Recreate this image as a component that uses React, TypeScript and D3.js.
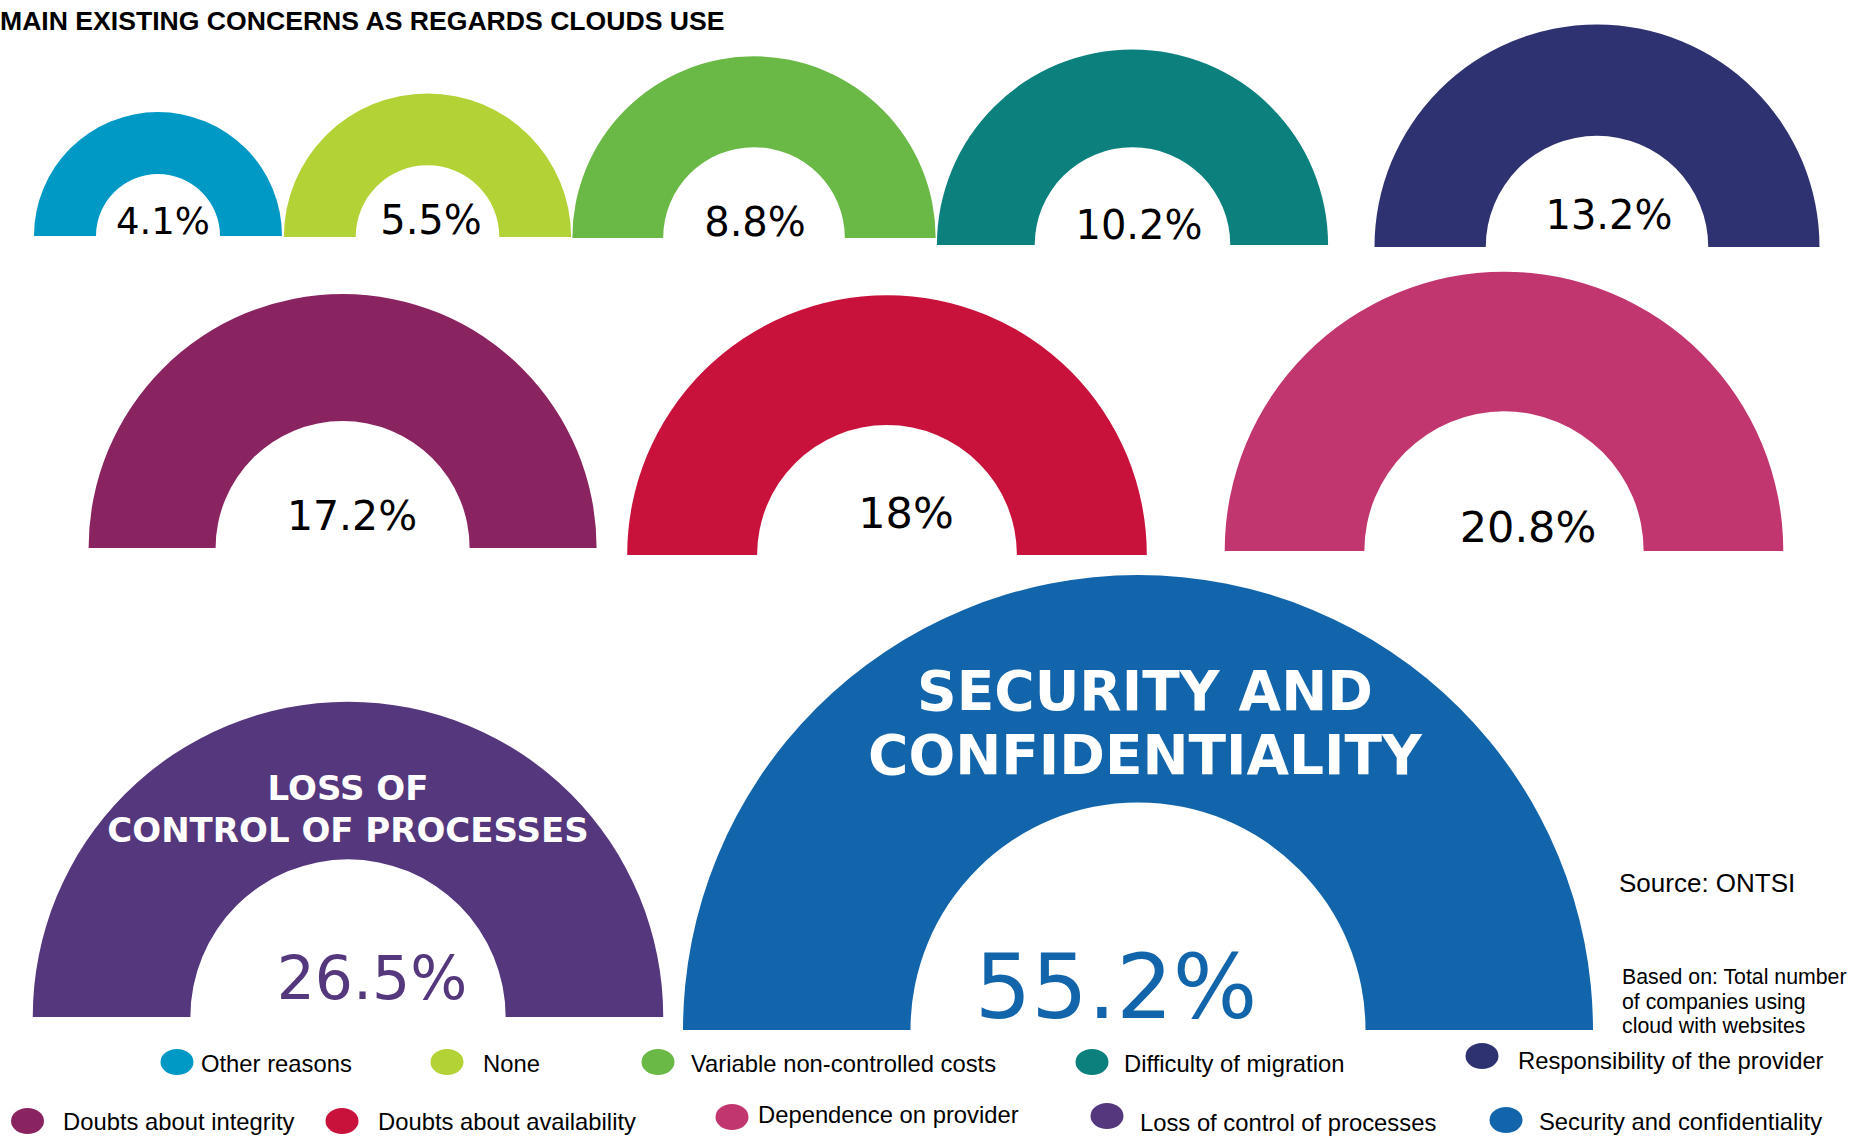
import React from "react";
import * as d3 from "d3";

// Concerns about cloud use, share of companies (%)
const concerns = [
  "Other reasons",
  "None",
  "Variable non-controlled costs",
  "Difficulty of migration",
  "Responsibility of the provider",
  "Doubts about integrity",
  "Doubts about availability",
  "Dependence on provider",
  "Loss of control of processes",
  "Security and confidentiality",
];
const shares = [4.1, 5.5, 8.8, 10.2, 13.2, 17.2, 18, 20.8, 26.5, 55.2];
const colors = [
  "#0099c6",
  "#b2d235",
  "#6ab846",
  "#0b807d",
  "#2f3270",
  "#892461",
  "#c8123b",
  "#c23670",
  "#55377d",
  "#1265aa",
];

// Headline captions written inside the two largest arches
const captions: Record<number, string[]> = {
  8: ["LOSS OF", "CONTROL OF PROCESSES"],
  9: ["SECURITY AND", "CONFIDENTIALITY"],
};

// Arch placement: centre x, baseline y
const archPos: [number, number][] = [
  [158, 236],
  [427.5, 237],
  [754, 238],
  [1132.5, 245],
  [1597, 247],
  [342.6, 548],
  [887, 555],
  [1504, 551],
  [348, 1017],
  [1138, 1030],
];

// Value label placement: x, baseline, font size, colour
const labelPos: [number, number, number, string][] = [
  [163, 234, 37, "#000"],
  [431, 234, 40, "#000"],
  [755, 236, 40, "#000"],
  [1139, 239, 40, "#000"],
  [1609, 229, 40, "#000"],
  [352, 530, 41, "#000"],
  [906, 528, 43, "#000"],
  [1528, 542, 43, "#000"],
  [372, 999, 60, "#55377d"],
  [1116, 1018, 89, "#1265aa"],
];

// Caption placement: x, first baseline, line step, font size
const captionPos: Record<number, [number, number, number, number]> = {
  8: [348, 800, 42, 34],
  9: [1145, 710, 64, 55],
};

// Legend placement: dot cx, dot cy, text x, text baseline
const legendPos: [number, number, number, number][] = [
  [177, 1062, 201, 1072],
  [447, 1062, 483, 1072],
  [658, 1062, 691, 1072],
  [1092, 1062, 1124, 1072],
  [1482, 1056, 1518, 1069],
  [27.5, 1121, 63, 1130],
  [342, 1121, 378, 1130],
  [732, 1117, 758, 1123],
  [1107, 1116, 1140, 1131],
  [1506, 1120, 1539, 1130],
];

const W = 1852;
const H = 1136;

// Arch area grows with the share
const radius = d3.scaleSqrt().domain([0, 55.2]).range([0, 455]);

const sans = "'Liberation Sans', Arial, sans-serif";
const dejavu = "'DejaVu Sans', Verdana, sans-serif";

export default function App() {
  const arcGen = d3.arc<{ r: number }>()
    .innerRadius((d) => d.r / 2)
    .outerRadius((d) => d.r)
    .startAngle(-Math.PI / 2)
    .endAngle(Math.PI / 2);

  return (
    <svg
      width={W}
      height={H}
      viewBox={`0 0 ${W} ${H}`}
      style={{ position: "absolute", left: 0, top: 0, background: "#fff" }}
    >
      <rect x={0} y={0} width={W} height={H} fill="#fff" />
      <text
        x={0}
        y={30}
        fontFamily={sans}
        fontWeight="bold"
        fontSize={26.6}
        fill="#000"
      >
        MAIN EXISTING CONCERNS AS REGARDS CLOUDS USE
      </text>

      {shares.map((v, i) => {
        const [cx, by] = archPos[i];
        const r = radius(v);
        return (
          <g key={concerns[i]} transform={`translate(${cx},${by})`}>
            <path d={arcGen({ r }) || ""} fill={colors[i]} />
          </g>
        );
      })}

      {shares.map((v, i) => {
        const [lx, ly, fs, fc] = labelPos[i];
        return (
          <text
            key={"v" + i}
            x={lx}
            y={ly}
            textAnchor="middle"
            fontFamily={dejavu}
            fontSize={fs}
            fill={fc}
          >
            {`${v}%`}
          </text>
        );
      })}

      {Object.keys(captions).map((k) => {
        const i = Number(k);
        const [x, y0, step, fs] = captionPos[i];
        return (
          <text
            key={"c" + i}
            textAnchor="middle"
            fontFamily={dejavu}
            fontWeight="bold"
            fontSize={fs}
            fill="#fff"
          >
            {captions[i].map((line, j) => (
              <tspan key={j} x={x} y={y0 + j * step}>
                {line}
              </tspan>
            ))}
          </text>
        );
      })}

      <text x={1619} y={892} fontFamily={sans} fontSize={26} fill="#000">
        Source: ONTSI
      </text>
      <text fontFamily={sans} fontSize={21.3} fill="#000">
        <tspan x={1622} y={984}>Based on: Total number</tspan>
        <tspan x={1622} y={1009}>of companies using</tspan>
        <tspan x={1622} y={1033}>cloud with websites</tspan>
      </text>

      {concerns.map((name, i) => {
        const [dx, dy, tx, ty] = legendPos[i];
        return (
          <g key={"l" + i}>
            <ellipse cx={dx} cy={dy} rx={16.5} ry={13} fill={colors[i]} />
            <text x={tx} y={ty} fontFamily={sans} fontSize={23.8} fill="#000">
              {name}
            </text>
          </g>
        );
      })}
    </svg>
  );
}
